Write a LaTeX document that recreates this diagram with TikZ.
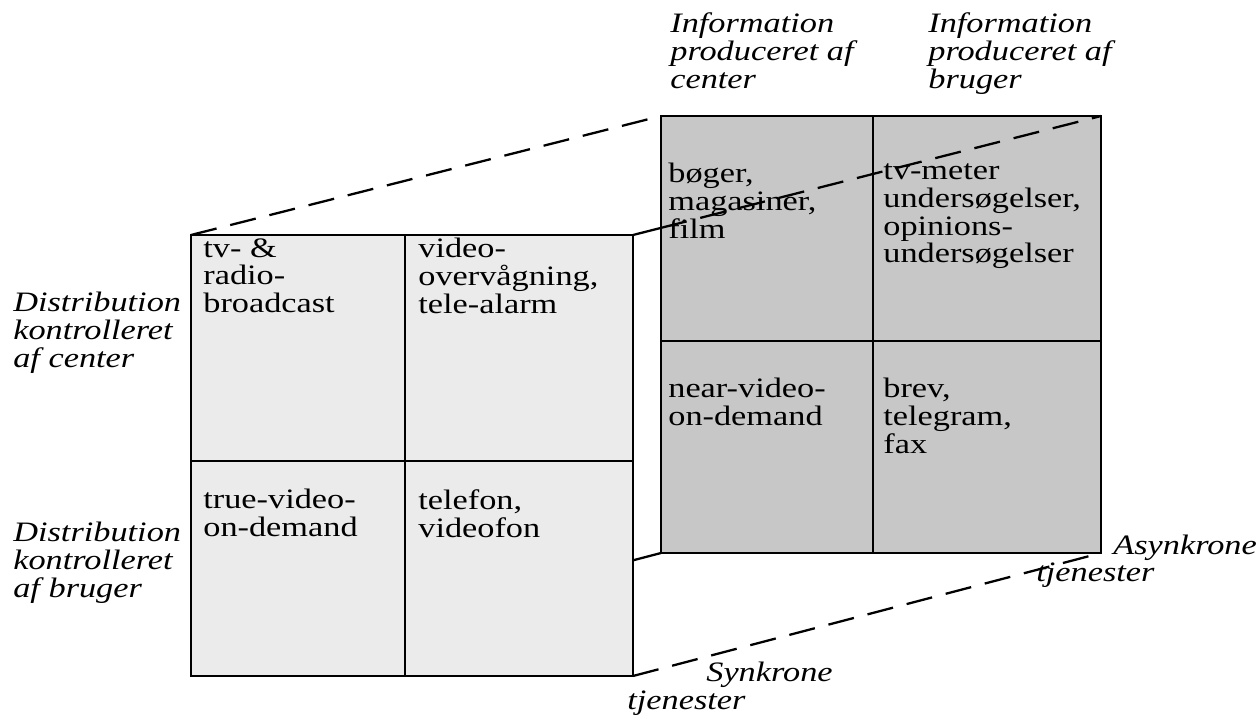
\documentclass[tikz,border=0pt]{standalone}
\usepackage{fontspec}
\setmainfont{Liberation Serif}[FakeStretch=1.22]
\usetikzlibrary{calc}
\usetikzlibrary{positioning}
\newcommand{\cellfont}{\fontsize{16}{15.9}\selectfont}
\tikzset{frame/.style = {line width = 1.6pt, line join = miter}}
\tikzset{edge/.style = {line width = 1.3pt, dash pattern = on 15pt off 8pt}}
\tikzset{cell/.style = {anchor = north west, align = left, inner sep = 0,
                        font = \cellfont, execute at begin node = \strut}}
\tikzset{axis text/.style = {cell, font = \cellfont\itshape}}
\definecolor{frontgray}{gray}{0.92}
\definecolor{backgray}{gray}{0.78}

\begin{document}
\begin{tikzpicture}[x = 0.02cm, y = -0.02cm]
      \useasboundingbox (0, 0) rectangle (1260, 719);

      % corners of the near and the far square
      \coordinate (fTL) at (191, 235);
      \coordinate (fTR) at (633, 235);
      \coordinate (fBL) at (191, 676);
      \coordinate (fBR) at (633, 676);
      \coordinate (bTL) at (661, 116);
      \coordinate (bTR) at (1101, 116);
      \coordinate (bBL) at (661, 553);
      \coordinate (bBR) at (1101, 553);

      \draw [frame, fill = backgray] (bTL) rectangle (bBR);
      \draw [frame] (873, 116) -- (873, 553);
      \draw [frame] (661, 341) -- (1101, 341);

      \draw [frame, fill = frontgray] (fTL) rectangle (fBR);
      \draw [frame] (405, 235) -- (405, 676);
      \draw [frame] (191, 461) -- (633, 461);

      % depth edges
      \draw [edge] (fTL) -- (bTL);
      \draw [line width = 1.3pt] (fTR) -- ($(fTR)!0.06!(bTR)$) coordinate (bEdge);
      \draw [edge] (bEdge) -- (bTR);
      \draw [edge] (fBR) -- (bBR);
      \draw [line width = 1.3pt] ($(bBL)!0.06!(fBL)$) -- (bBL);

      % cells
      \node [cell] (tvRadio) at (203, 238) {tv- \&\\radio-\\broadcast};
      \node [cell] (videoWatch) at (418, 238) {video-\\overvågning,\\tele-alarm};
      \node [cell] (trueVod) at (203, 489) {true-video-\\on-demand};
      \node [cell] (phone) at (418, 489) {telefon,\\videofon};
      \node [cell] (books) at (668, 163) {bøger,\\magasiner,\\film};
      \node [cell] (surveys) at (883, 163) {tv-meter\\undersøgelser,\\opinions-\\undersøgelser};
      \node [cell] (nearVod) at (668, 378) {near-video-\\on-demand};
      \node [cell] (letters) at (883, 378) {brev,\\telegram,\\fax};

      % axis labels
      \node [axis text] (infoCenter) at (670, 12) {Information\\produceret af\\center};
      \node [axis text] (infoUser) at (928, 12) {Information\\produceret af\\bruger};
      \node [axis text] (distCenter) at (13, 292) {Distribution\\kontrolleret\\af center};
      \node [axis text] (distUser) at (13, 522) {Distribution\\kontrolleret\\af bruger};
      \node [axis text] (async) at (1113, 535) {Asynkrone};
      \node [axis text] (asyncServ) at (1036, 562) {tjenester};
      \node [axis text] (sync) at (706, 662) {Synkrone};
      \node [axis text] (syncServ) at (627, 690) {tjenester};
    \end{tikzpicture}
\end{document}
